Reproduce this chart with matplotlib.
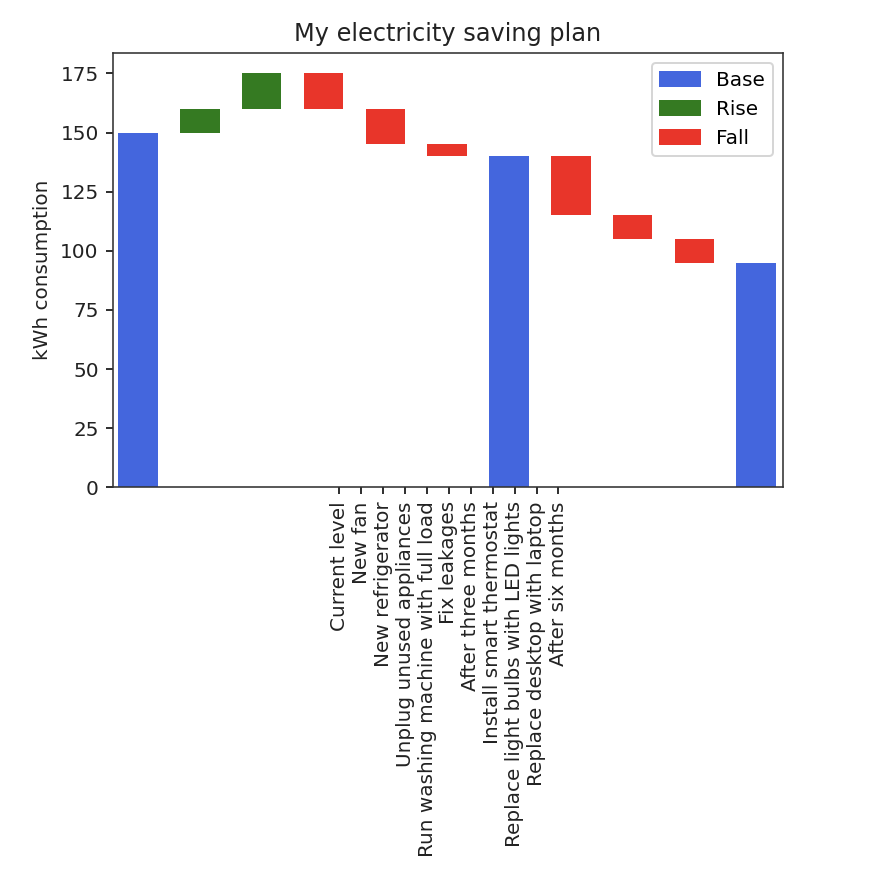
import matplotlib
matplotlib.use("Agg")
import matplotlib.pyplot as plt
from matplotlib.patches import Patch

labels = ["Current level", "New fan", "New refrigerator", "Unplug unused appliances",
          "Run washing machine with full load", "Fix leakages", "After three months",
          "Install smart thermostat", "Replace light bulbs with LED lights",
          "Replace desktop with laptop", "After six months"]
kinds = ["Base", "Rise", "Rise", "Fall", "Fall", "Fall", "Base", "Fall", "Fall", "Fall", "Base"]
bottoms = [0, 150, 160, 160, 145, 140, 0, 115, 105, 95, 0]
tops = [150, 160, 175, 175, 160, 145, 140, 140, 115, 105, 95]

colors = {"Base": "#4466DD", "Rise": "#357A22", "Fall": "#E8352A"}

DPI = 144
fig = plt.figure(figsize=(884 / DPI, 884 / DPI), dpi=DPI)
ax = fig.add_axes([0.1275, 0.4488, 0.758, 0.4916])

xs = list(range(len(labels)))
heights = [t - b for t, b in zip(tops, bottoms)]
ax.bar(xs, heights, bottom=bottoms, width=0.64,
       color=[colors[k] for k in kinds])

tick_pos = [3.257 + 0.3544 * j for j in range(len(labels))]
ax.set_xticks(tick_pos)
ax.set_xticklabels(labels, rotation=90, color="#222222")
ax.set_xlim(-0.41, 10.43)
ax.set_ylim(0, 183.75)
ax.set_yticks([0, 25, 50, 75, 100, 125, 150, 175])
ax.tick_params(axis="y", labelcolor="#222222")
ax.set_ylabel("kWh consumption", color="#222222")
ax.set_title("My electricity saving plan", color="#222222")
for s in ax.spines.values():
    s.set_color("#333333")

handles = [Patch(color=colors[k], label=k) for k in ["Base", "Rise", "Fall"]]
ax.legend(handles=handles, loc="upper right")

fig.savefig("out.png", dpi=DPI)
